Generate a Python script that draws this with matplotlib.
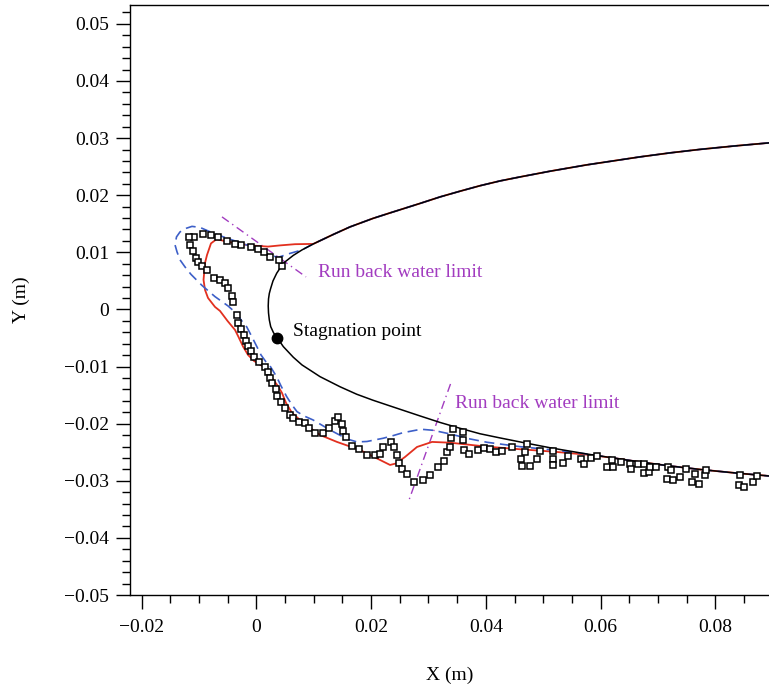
import matplotlib
matplotlib.use("Agg")
import matplotlib.pyplot as plt
import numpy as np
from matplotlib.ticker import MultipleLocator, FuncFormatter

plt.rcParams['font.family'] = ['Liberation Serif', 'DejaVu Serif']

# Airfoil surface (upper branch from trailing side to nose, then lower branch)
foil_upper_x = [0.08937, 0.08346, 0.07735, 0.07212, 0.06689, 0.06165, 0.05759, 0.05120, 0.04597, 0.04248,
                0.03899, 0.03550, 0.03202, 0.02853, 0.02330, 0.02033, 0.01632, 0.01341, 0.00992, 0.00795,
                0.00643, 0.00469, 0.00354, 0.00289, 0.00246, 0.00225, 0.00211]
foil_upper_y = [0.02916, 0.02863, 0.02802, 0.02741, 0.02671, 0.02592, 0.02531, 0.02420, 0.02320, 0.02250,
                0.02166, 0.02070, 0.01970, 0.01856, 0.01690, 0.01594, 0.01445, 0.01313, 0.01147, 0.01042,
                0.00946, 0.00809, 0.00634, 0.00499, 0.00359, 0.00280, 0.00184]
foil_lower_x = [0.00206, 0.00211, 0.00225, 0.00249, 0.00298, 0.00364, 0.00469, 0.00643, 0.00795, 0.00964,
                0.01109, 0.01458, 0.01749, 0.02033, 0.02330, 0.02853, 0.03202, 0.03550, 0.03899, 0.04248,
                0.04597, 0.05120, 0.05759, 0.06165, 0.06689, 0.07212, 0.07735, 0.08346, 0.08937]
foil_lower_y = [0.00061, -0.00061, -0.00184, -0.00301, -0.00408, -0.00497, -0.00651, -0.00837, -0.00972, -0.01082,
                -0.01177, -0.01354, -0.01485, -0.01590, -0.01690, -0.01865, -0.01979, -0.02081, -0.02177, -0.02250,
                -0.02320, -0.02422, -0.02531, -0.02592, -0.02671, -0.02741, -0.02802, -0.02863, -0.02916]

# Simulated ice shape 1 (red solid), free part between the two run-back limits
red_x = [0.00992, 0.00673, 0.00412, 0.00202, -0.00112, -0.00286, -0.00431, -0.00600, -0.00696, -0.00792,
         -0.00861, -0.00896, -0.00922, -0.00896, -0.00844, -0.00722, -0.00635, -0.00504, -0.00373, -0.00312,
         -0.00234, -0.00146, -0.00042, 0.00120, 0.00202, 0.00272, 0.00382, 0.00446, 0.00516, 0.00621,
         0.00760, 0.00935, 0.01109, 0.01405, 0.01806, 0.02330, 0.02434, 0.02591, 0.02800, 0.03062,
         0.03376, 0.04021, 0.04597, 0.05172, 0.05817]
red_y = [0.01147, 0.01142, 0.01121, 0.01100, 0.01121, 0.01147, 0.01170, 0.01208, 0.01229, 0.01156,
         0.00954, 0.00814, 0.00517, 0.00342, 0.00201, 0.00044, -0.00026, -0.00201, -0.00359, -0.00482,
         -0.00648, -0.00797, -0.00902, -0.01002, -0.01086, -0.01200, -0.01352, -0.01462, -0.01637, -0.01813,
         -0.01935, -0.02075, -0.02198, -0.02320, -0.02461, -0.02723, -0.02697, -0.02583, -0.02408, -0.02320,
         -0.02333, -0.02403, -0.02448, -0.02490, -0.02548]

# Simulated ice shape 2 (blue dashed)
blue_x = [0.00795, 0.00586, 0.00377, 0.00202, 0.00063, -0.00146, -0.00425, -0.00722, -0.00984, -0.01123,
          -0.01219, -0.01332, -0.01393, -0.01419, -0.01384, -0.01332, -0.01245, -0.01140, -0.00949, -0.00722,
          -0.00495, -0.00338, -0.00269, -0.00169, -0.00077, -0.00007, 0.00080, 0.00167, 0.00237, 0.00354,
          0.00429, 0.00528, 0.00621, 0.00708, 0.00830, 0.00987, 0.01283, 0.01580, 0.01754, 0.01929,
          0.02208, 0.02364, 0.02556, 0.02713, 0.02870, 0.03079, 0.03376, 0.03725, 0.04021, 0.04597,
          0.05172, 0.05556, 0.05759]
blue_y = [0.01042, 0.00981, 0.00911, 0.00963, 0.01033, 0.01121, 0.01217, 0.01322, 0.01436, 0.01454,
          0.01422, 0.01357, 0.01270, 0.01130, 0.01007, 0.00867, 0.00744, 0.00613, 0.00420, 0.00224,
          0.00061, -0.00079, -0.00184, -0.00306, -0.00482, -0.00622, -0.00797, -0.00919, -0.00989, -0.01182,
          -0.01340, -0.01527, -0.01673, -0.01790, -0.01865, -0.01935, -0.02110, -0.02268, -0.02320, -0.02312,
          -0.02256, -0.02215, -0.02158, -0.02128, -0.02098, -0.02116, -0.02180, -0.02268, -0.02326, -0.02403,
          -0.02461, -0.02504, -0.02531]

# Experimental ice shape (squares)
exp_x = [0.00441, 0.00394, 0.00237, 0.00127, 0.00019, -0.00103, -0.00277, -0.00377, -0.00518, -0.00661,
         -0.00792, -0.00931, -0.01083, -0.01170, -0.01158, -0.01114, -0.01053, -0.01013, -0.00940, -0.00867,
         -0.00734, -0.00642, -0.00556, -0.00504, -0.00431, -0.00413, -0.00344, -0.00316, -0.00263, -0.00221,
         -0.00181, -0.00138, -0.00091, -0.00042, 0.00037, 0.00153, 0.00197, 0.00241, 0.00272, 0.00342,
         0.00359, 0.00429, 0.00490, 0.00579, 0.00638, 0.00746, 0.00842, 0.00921, 0.01022, 0.01161,
         0.01257, 0.01365, 0.01423, 0.01493, 0.01515, 0.01561, 0.01662, 0.01789, 0.01923, 0.02068,
         0.02150, 0.02213, 0.02344, 0.02399, 0.02446, 0.02483, 0.02544, 0.02631, 0.02752, 0.02900,
         0.03027, 0.03161, 0.03271, 0.03318, 0.03371, 0.03398, 0.03419, 0.03608, 0.03608, 0.03615,
         0.03711, 0.03855, 0.03969, 0.04073, 0.04174, 0.04283, 0.04457, 0.04713, 0.04678, 0.04614,
         0.04626, 0.04771, 0.04898, 0.04945, 0.05167, 0.05167, 0.05172, 0.05341, 0.05439, 0.05660,
         0.05718, 0.05834, 0.05939, 0.06119, 0.06213, 0.06195, 0.06352, 0.06520, 0.06537, 0.06654,
         0.06753, 0.06758, 0.06837, 0.06863, 0.06968, 0.07174, 0.07226, 0.07165, 0.07264, 0.07381,
         0.07491, 0.07643, 0.07599, 0.07723, 0.07827, 0.07834, 0.08427, 0.08420, 0.08507, 0.08650,
         0.08729]
exp_y = [0.00757, 0.00858, 0.00919, 0.00998, 0.01060, 0.01089, 0.01130, 0.01142, 0.01200, 0.01275,
         0.01296, 0.01317, 0.01275, 0.01275, 0.01133, 0.01016, 0.00907, 0.00828, 0.00762, 0.00695,
         0.00548, 0.00513, 0.00459, 0.00368, 0.00231, 0.00126, -0.00096, -0.00242, -0.00345, -0.00441,
         -0.00557, -0.00648, -0.00736, -0.00832, -0.00919, -0.01002, -0.01103, -0.01196, -0.01287, -0.01392,
         -0.01510, -0.01615, -0.01730, -0.01841, -0.01905, -0.01967, -0.01993, -0.02081, -0.02168, -0.02168,
         -0.02070, -0.01949, -0.01877, -0.02002, -0.02124, -0.02242, -0.02385, -0.02447, -0.02548, -0.02557,
         -0.02534, -0.02408, -0.02329, -0.02413, -0.02548, -0.02688, -0.02797, -0.02884, -0.03021, -0.02986,
         -0.02893, -0.02753, -0.02653, -0.02496, -0.02403, -0.02250, -0.02093, -0.02140, -0.02285, -0.02461,
         -0.02536, -0.02466, -0.02420, -0.02443, -0.02501, -0.02478, -0.02403, -0.02356, -0.02490, -0.02615,
         -0.02737, -0.02737, -0.02622, -0.02473, -0.02478, -0.02615, -0.02729, -0.02688, -0.02560, -0.02613,
         -0.02711, -0.02609, -0.02571, -0.02753, -0.02767, -0.02636, -0.02680, -0.02706, -0.02799, -0.02706,
         -0.02715, -0.02858, -0.02841, -0.02764, -0.02753, -0.02753, -0.02811, -0.02963, -0.02981, -0.02933,
         -0.02799, -0.02884, -0.03026, -0.03051, -0.02904, -0.02811, -0.02907, -0.03074, -0.03109, -0.03030,
         -0.02921]

# Run-back water limit lines and annotations
limit_upper_x = [-0.0060, 0.00865]
limit_upper_y = [0.0162, 0.00569]
limit_lower_x = [0.03384, 0.02661]
limit_lower_y = [-0.01305, -0.03336]
stag_x, stag_y = 0.00364, -0.00497
label_limit = "Run back water limit"
label_stag = "Stagnation point"

xmajor = [-0.02, 0, 0.02, 0.04, 0.06, 0.08]
ymajor = [-0.05, -0.04, -0.03, -0.02, -0.01, 0, 0.01, 0.02, 0.03, 0.04, 0.05]

RED = "#e2301f"
BLUE = "#3d5fc8"
PURPLE = "#a23cc0"

fig = plt.figure(figsize=(7.69, 6.88), dpi=100)
ax = fig.add_axes([130 / 769, 1 - 595 / 688, 639 / 769, 590 / 688])

up_x = np.array(foil_upper_x); up_y = np.array(foil_upper_y)
lo_x = np.array(foil_lower_x); lo_y = np.array(foil_lower_y)

# red: along upper surface from trailing end to junction, free part, then lower surface
r_up = up_x > red_x[0] + 1e-9
r_lo = lo_x > red_x[-1] + 1e-9
ax.plot(np.r_[up_x[r_up], red_x, lo_x[r_lo]], np.r_[up_y[r_up], red_y, lo_y[r_lo]],
        color=RED, lw=1.3, zorder=3, solid_joinstyle='round')
b_up = up_x > blue_x[0] + 1e-9
b_lo = lo_x > blue_x[-1] + 1e-9
ax.plot(np.r_[up_x[b_up], blue_x, lo_x[b_lo]], np.r_[up_y[b_up], blue_y, lo_y[b_lo]],
        color=BLUE, lw=1.2, ls=(0, (6.0, 3.4)), zorder=3)

ax.plot(np.r_[up_x, lo_x], np.r_[up_y, lo_y], color="black", lw=1.1, zorder=4,
        solid_joinstyle='round')

ax.plot(exp_x, exp_y, ls='none', marker='s', ms=5.0, mfc='white', mec='black', mew=1.1, zorder=5)

ax.plot(limit_upper_x, limit_upper_y, color=PURPLE, lw=1.0, ls=(0, (6, 3, 1, 3)), zorder=2)
ax.plot(limit_lower_x, limit_lower_y, color=PURPLE, lw=1.0, ls=(0, (6, 3, 1, 3)), zorder=2)

ax.plot([stag_x], [stag_y], marker='o', ms=7.5, color='black', zorder=6)

ax.text(0.0108, 0.0064, label_limit, color=PURPLE, fontsize=14, ha='left', va='center')
ax.text(0.0347, -0.0164, label_limit, color=PURPLE, fontsize=14, ha='left', va='center')
ax.text(0.0064, -0.0038, label_stag, color='black', fontsize=14, ha='left', va='center')

ax.set_xlim(-0.02204, 0.08937)
ax.set_ylim(-0.05, 0.0533)

ax.set_xticks(xmajor)
ax.set_yticks(ymajor)
ax.xaxis.set_minor_locator(MultipleLocator(0.005))
ax.yaxis.set_minor_locator(MultipleLocator(0.002))


def fmt(v, pos=None):
    if abs(v) < 1e-12:
        return "0"
    return f"{v:.2f}".replace("-", "\u2212")


ax.xaxis.set_major_formatter(FuncFormatter(fmt))
ax.yaxis.set_major_formatter(FuncFormatter(fmt))
ax.tick_params(which='major', direction='out', length=10, width=1.0, labelsize=14, pad=5)
ax.tick_params(which='minor', direction='out', length=5.5, width=1.0)
ax.tick_params(axis='x', which='major', pad=7)

ax.spines['right'].set_visible(False)
for s in ['left', 'bottom', 'top']:
    ax.spines[s].set_linewidth(1.0)

ax.set_xlabel("X (m)", fontsize=14)
ax.set_ylabel("Y (m)", fontsize=14)
ax.xaxis.set_label_coords((450 - 130) / 639, (595 - 667) / 590)
ax.yaxis.set_label_coords((30 - 130) / 639, (595 - 300) / 590)

fig.savefig("out.png", dpi=100)
